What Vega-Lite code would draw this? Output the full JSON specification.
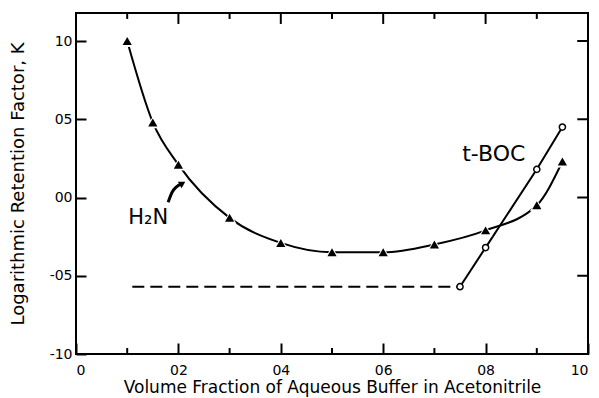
{
  "$schema": "https://vega.github.io/schema/vega-lite/v6.json",
  "width": 512,
  "height": 341,
  "autosize": "none",
  "padding": {"left": 76, "top": 13, "right": 11, "bottom": 44},
  "background": "white",
  "config": {
    "view": {"stroke": "black", "strokeWidth": 2},
    "axis": {
      "domain": false, "grid": false, "tickColor": "black", "tickWidth": 2,
      "labelColor": "black", "titleColor": "black",
      "labelFont": "DejaVu Sans", "titleFont": "DejaVu Sans",
      "labelFontSize": 14, "titleFontSize": 18, "titleFontWeight": "normal"
    }
  },
  "datasets": {
    "h2n": [
      {"x": 0.1, "y": 1.0}, {"x": 0.15, "y": 0.48}, {"x": 0.2, "y": 0.21},
      {"x": 0.3, "y": -0.13}, {"x": 0.4, "y": -0.29}, {"x": 0.5, "y": -0.35},
      {"x": 0.6, "y": -0.35}, {"x": 0.7, "y": -0.30}, {"x": 0.8, "y": -0.21},
      {"x": 0.9, "y": -0.05}, {"x": 0.95, "y": 0.23}
    ],
    "tboc": [
      {"x": 0.75, "y": -0.57}, {"x": 0.8, "y": -0.32}, {"x": 0.9, "y": 0.18}, {"x": 0.95, "y": 0.45}
    ],
    "flat": [{"x": 0.11, "y": -0.57}, {"x": 0.75, "y": -0.57}],
    "arrow": [{"x": 0.18, "y": -0.03}, {"x": 0.188, "y": 0.035}, {"x": 0.205, "y": 0.085}],
    "arrowhead": [{"x": 0.208, "y": 0.09}],
    "labels": [
      {"x": 0.816, "y": 0.275, "text": "t-BOC", "size": 22},
      {"x": 0.141, "y": -0.131, "text": "H₂N", "size": 21}
    ],
    "xminor": [{"x": 0.1}, {"x": 0.3}, {"x": 0.5}, {"x": 0.7}, {"x": 0.9}],
    "xmajor": [{"x": 0.2}, {"x": 0.4}, {"x": 0.6}, {"x": 0.8}],
    "yright": [{"y": -0.5}, {"y": 0}, {"y": 0.5}, {"y": 1}]
  },
  "layer": [
    {
      "data": {"name": "flat"},
      "mark": {"type": "line", "strokeDash": [12, 6], "strokeWidth": 2, "color": "black"},
      "encoding": {
        "x": {"field": "x", "type": "quantitative", "scale": {"domain": [0, 1], "nice": false, "zero": false},
          "axis": {"orient": "bottom", "values": [0, 0.2, 0.4, 0.6, 0.8, 1], "tickSize": -11,
            "labelExpr": "datum.value == 0 ? '0' : replace(format(datum.value, '.1f'), '.', '')",
            "labelPadding": 20, "title": "Volume Fraction of Aqueous Buffer in Acetonitrile", "titlePadding": 2, "titleFontSize": 17}},
        "y": {"field": "y", "type": "quantitative", "scale": {"domain": [-1, 1.179], "nice": false, "zero": false},
          "axis": {"orient": "left", "values": [-1, -0.5, 0, 0.5, 1], "tickSize": -10,
            "labelExpr": "replace(replace(format(datum.value, '.1f'), '.', ''), '−', '-')",
            "labelPadding": 14, "title": "Logarithmic Retention Factor, K", "titlePadding": 22}}
      }
    },
    {
      "data": {"name": "xminor"},
      "mark": {"type": "rule", "strokeWidth": 2, "color": "black"},
      "encoding": {
        "x": {"field": "x", "type": "quantitative"},
        "y": {"datum": -1},
        "y2": {"datum": -0.962}
      }
    },
    {
      "data": {"name": "xminor"},
      "mark": {"type": "rule", "strokeWidth": 2, "color": "black"},
      "encoding": {
        "x": {"field": "x", "type": "quantitative"},
        "y": {"datum": 1.179},
        "y2": {"datum": 1.141}
      }
    },
    {
      "data": {"name": "xmajor"},
      "mark": {"type": "rule", "strokeWidth": 2, "color": "black"},
      "encoding": {
        "x": {"field": "x", "type": "quantitative"},
        "y": {"datum": 1.179},
        "y2": {"datum": 1.109}
      }
    },
    {
      "data": {"name": "yright"},
      "mark": {"type": "rule", "strokeWidth": 2, "color": "black"},
      "encoding": {
        "y": {"field": "y", "type": "quantitative"},
        "x": {"datum": 1},
        "x2": {"datum": 0.979}
      }
    },
    {
      "data": {"name": "tboc"},
      "mark": {"type": "line", "strokeWidth": 2, "color": "black"},
      "encoding": {
        "x": {"field": "x", "type": "quantitative"},
        "y": {"field": "y", "type": "quantitative"}
      }
    },
    {
      "data": {"name": "h2n"},
      "mark": {"type": "line", "strokeWidth": 2, "color": "black", "interpolate": "monotone"},
      "encoding": {
        "x": {"field": "x", "type": "quantitative"},
        "y": {"field": "y", "type": "quantitative"}
      }
    },
    {
      "data": {"name": "h2n"},
      "mark": {"type": "point", "shape": "triangle-up", "filled": true, "color": "white", "size": 190, "opacity": 1},
      "encoding": {
        "x": {"field": "x", "type": "quantitative"},
        "y": {"field": "y", "type": "quantitative"}
      }
    },
    {
      "data": {"name": "h2n"},
      "mark": {"type": "point", "shape": "triangle-up", "filled": true, "color": "black", "size": 85, "opacity": 1},
      "encoding": {
        "x": {"field": "x", "type": "quantitative"},
        "y": {"field": "y", "type": "quantitative"}
      }
    },
    {
      "data": {"name": "tboc"},
      "mark": {"type": "point", "shape": "circle", "filled": false, "fill": "white", "fillOpacity": 1, "stroke": "black", "strokeWidth": 1.5, "size": 38, "opacity": 1},
      "encoding": {
        "x": {"field": "x", "type": "quantitative"},
        "y": {"field": "y", "type": "quantitative"}
      }
    },
    {
      "data": {"name": "arrow"},
      "mark": {"type": "line", "strokeWidth": 3, "color": "black", "interpolate": "monotone"},
      "encoding": {
        "x": {"field": "x", "type": "quantitative"},
        "y": {"field": "y", "type": "quantitative"}
      }
    },
    {
      "data": {"name": "arrowhead"},
      "mark": {"type": "point", "shape": "triangle-up", "filled": true, "color": "black", "size": 55, "angle": 60, "opacity": 1},
      "encoding": {
        "x": {"field": "x", "type": "quantitative"},
        "y": {"field": "y", "type": "quantitative"}
      }
    },
    {
      "data": {"name": "labels"},
      "mark": {"type": "text", "font": "DejaVu Sans", "color": "black", "align": "center", "baseline": "middle"},
      "encoding": {
        "x": {"field": "x", "type": "quantitative"},
        "y": {"field": "y", "type": "quantitative"},
        "text": {"field": "text"},
        "size": {"field": "size", "type": "quantitative", "scale": null}
      }
    }
  ]
}
